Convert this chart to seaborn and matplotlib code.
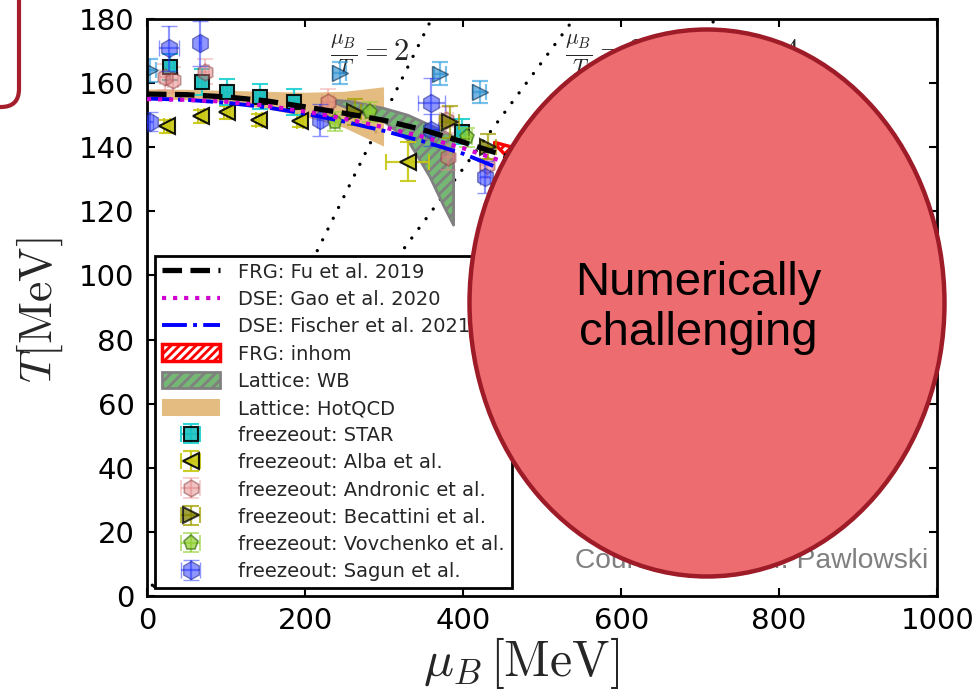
import numpy as np
import matplotlib
matplotlib.use("Agg")
import matplotlib.pyplot as plt
import seaborn as sns
from matplotlib.patches import Ellipse, FancyBboxPatch
from matplotlib.transforms import IdentityTransform

# ---------------- data ----------------
fu_mu = [0, 50, 100, 150, 200, 250, 300, 350, 400, 450, 500, 550, 600, 635]
fu_T = [156.6, 156.4, 155.7, 154.5, 152.6, 150.6, 148.4, 145.4, 141.6, 137.6, 133.0, 127.0, 119.0, 107.0]
gao_mu = [0, 50, 100, 150, 200, 250, 300, 350, 400, 450, 500, 550, 609]
gao_T = [155.0, 154.8, 154.2, 153.0, 151.2, 148.9, 146.2, 143.2, 139.7, 135.6, 131.0, 124.5, 109.0]
fis_mu = [0, 50, 100, 150, 200, 250, 300, 350, 400, 450, 480, 495]
fis_T = [155.2, 154.8, 153.9, 152.5, 150.5, 148.0, 145.1, 141.8, 138.0, 133.0, 127.0, 119.0]

inh_mu = [440, 500, 560, 620, 680]
inh_hi = [141.5, 137.5, 132.0, 125.0, 117.0]
inh_lo = [141.0, 126.0, 112.0, 98.0, 84.0]

wb_mu = [240, 260, 300, 330, 358, 375, 388]
wb_hi = [154.6, 154.2, 152.1, 150.0, 146.9, 145.0, 143.3]
wb_lo = [153.6, 151.6, 148.0, 142.3, 130.8, 122.0, 115.7]

hot_mu = [0, 50, 100, 150, 200, 250, 300]
hot_hi = [158.0, 157.9, 157.6, 157.3, 157.0, 157.3, 158.7]
hot_lo = [155.0, 154.7, 153.8, 152.0, 149.5, 146.0, 140.2]

ratios = [2, 3, 4]
ratio_label_mu = [232, 529, 725]
ratio_label_T = 168.8

star_mu = [29, 69, 101, 143, 186, 398]
star_T = [165.1, 160.4, 157.3, 155.8, 154.2, 144.9]
star_muerr = [5, 5, 5, 5, 5, 5]
star_Terr = [4, 4, 4, 4, 4, 4]

alba_mu = [25, 68, 101, 142, 194, 330]
alba_T = [146.6, 149.6, 150.9, 148.5, 148.2, 135.5]
alba_muerr = [4, 4, 4, 4, 4, 27]
alba_Terr = [2, 2, 2, 2, 2, 6]

andr_mu = [23, 33, 73, 229, 379, 381, 430]
andr_T = [162.0, 161.0, 163.6, 154.2, 148.5, 137.0, 134.5]
andr_muerr = [6, 6, 6, 8, 8, 8, 8]
andr_Terr = [4, 4, 4, 4, 4, 4, 4]

beca_mu = [263, 383, 432]
beca_T = [151.0, 148.0, 140.2]
beca_muerr = [8, 12, 10]
beca_Terr = [4, 5, 4]

beca2_mu = [4, 244, 371, 421]
beca2_T = [164.0, 163.1, 163.0, 157.3]
beca2_muerr = [8, 8, 8, 8]
beca2_Terr = [3.5, 3.5, 3.5, 3.5]

vov_mu = [238, 282, 405]
vov_T = [148.0, 151.0, 143.1]
vov_muerr = [6, 6, 6]
vov_Terr = [3, 3, 3]

sag_mu = [4, 28, 67, 219, 360, 360, 428]
sag_T = [148.0, 170.9, 172.4, 148.5, 153.7, 145.4, 130.8]
sag_muerr = [4, 13, 1, 4, 17, 8, 6]
sag_Terr = [3, 7, 7, 5, 8, 5, 5]

# ---------------- style ----------------
sns.set_style("ticks")
plt.rcParams.update({
    "font.family": ["DejaVu Sans"],
    "mathtext.fontset": "cm",
    "xtick.direction": "in",
    "ytick.direction": "in",
    "xtick.top": True,
    "ytick.right": True,
    "xtick.major.size": 6,
    "ytick.major.size": 6,
    "xtick.major.width": 1.5,
    "ytick.major.width": 1.5,
    "xtick.major.pad": 8,
    "ytick.major.pad": 9,
    "axes.linewidth": 2,
    "axes.edgecolor": "black",
    "xtick.color": "black",
    "ytick.color": "black",
})

fig = plt.figure(figsize=(9.78, 6.97), dpi=100)
ax = fig.add_axes([0.1503, 0.1449, 0.808, 0.8278])

# ratio lines mu_B/T = const
Tline = np.array([0.0, 190.0])
for r, lm in zip(ratios, ratio_label_mu):
    ax.plot(Tline * r, Tline, color="k", lw=2.4, linestyle=(0, (0.01, 3.6)),
            dash_capstyle="round", zorder=1.2)
    ax.text(lm, ratio_label_T, rf"$\frac{{\mu_B}}{{T}}={r}$", fontsize=22,
            va="center", ha="left", zorder=1.3)

# bands
h_hot = ax.fill_between(hot_mu, hot_lo, hot_hi, facecolor="#e2b574", edgecolor="none",
                        alpha=0.9, zorder=1.4, label="Lattice: HotQCD")
plt.rcParams["hatch.color"] = "gray"
plt.rcParams["hatch.linewidth"] = 2.0
h_wb = ax.fill_between(wb_mu, wb_lo, wb_hi, facecolor="#74b874", edgecolor="gray",
                       hatch="///", lw=2, zorder=1.5, label="Lattice: WB")
h_inh = ax.fill_between(inh_mu, inh_lo, inh_hi, facecolor="none", edgecolor="red",
                        hatch="////", lw=2.5, zorder=1.6, label="FRG: inhom")

# freezeout data
ebkw = dict(capsize=6, elinewidth=1.6, capthick=1.6, ls="none")
e_beca2 = ax.errorbar(beca2_mu, beca2_T, xerr=beca2_muerr, yerr=beca2_Terr, fmt=">",
                      ms=11, mfc="#2f8fd0", mec="#1a3550", ecolor="#2f9fe0", alpha=0.65,
                      zorder=2.0, **ebkw)
e_star = ax.errorbar(star_mu, star_T, xerr=star_muerr, yerr=star_Terr, fmt="s", ms=10,
                     mfc="#19c0c0", mec="k", mew=1.5, ecolor="#19d0d0", alpha=0.9,
                     zorder=2.2, label="freezeout: STAR", **ebkw)
e_alba = ax.errorbar(alba_mu, alba_T, xerr=alba_muerr, yerr=alba_Terr, fmt="<", ms=12,
                     mfc="#c8c810", mec="k", mew=1.5, ecolor="#c8c810", alpha=0.9,
                     zorder=2.1, label="freezeout: Alba et al.", **ebkw)
e_andr = ax.errorbar(andr_mu, andr_T, xerr=andr_muerr, yerr=andr_Terr, fmt="h", ms=12,
                     mfc="#e07878", mec="#803030", mew=1.2, ecolor="#e88888", alpha=0.45,
                     zorder=2.3, label="freezeout: Andronic et al.", **ebkw)
e_beca = ax.errorbar(beca_mu, beca_T, xerr=beca_muerr, yerr=beca_Terr, fmt=">", ms=12,
                     mfc="#808000", mec="k", mew=1.5, ecolor="#a0a000", alpha=0.75,
                     zorder=2.4, label="freezeout: Becattini et al.", **ebkw)
e_vov = ax.errorbar(vov_mu, vov_T, xerr=vov_muerr, yerr=vov_Terr, fmt="p", ms=11,
                    mfc="#8fd030", mec="#3a7010", mew=1.2, ecolor="#8fd030", alpha=0.7,
                    zorder=2.5, label="freezeout: Vovchenko et al.", **ebkw)
e_sag = ax.errorbar(sag_mu, sag_T, xerr=sag_muerr, yerr=sag_Terr, fmt="h", ms=13,
                    mfc="#2030ff", mec="#101880", mew=1.0, ecolor="#2030ff", alpha=0.5,
                    zorder=2.6, label="freezeout: Sagun et al.", **ebkw)

# curves (seaborn)
sns.lineplot(x=fu_mu, y=fu_T, ax=ax, color="black", lw=3.8, linestyle="--",
             zorder=3.2, label="FRG: Fu et al. 2019", legend=False)
h_fu = ax.lines[-1]
sns.lineplot(x=gao_mu, y=gao_T, ax=ax, color="#d000d0", lw=3.0, linestyle=":",
             zorder=3.1, label="DSE: Gao et al. 2020", legend=False)
h_gao = ax.lines[-1]
sns.lineplot(x=fis_mu, y=fis_T, ax=ax, color="blue", lw=2.8, linestyle="-.",
             zorder=3.0, label="DSE: Fischer et al. 2021", legend=False)
h_fis = ax.lines[-1]

ax.set_xlim(0, 1000)
ax.set_ylim(0, 180)
ax.set_xticks([0, 200, 400, 600, 800, 1000])
ax.set_yticks([0, 20, 40, 60, 80, 100, 120, 140, 160, 180])
ax.tick_params(labelsize=21)
ax.set_xlabel(r"$\mu_B\,[\mathrm{MeV}]$", fontsize=36)
ax.set_ylabel(r"$T[\mathrm{MeV}]$", fontsize=33)
ax.xaxis.set_label_coords(0.473, -0.068)
ax.yaxis.set_label_coords(-0.104, 0.495)

handles = [h_fu, h_gao, h_fis, h_inh, h_wb, h_hot,
           e_star, e_alba, e_andr, e_beca, e_vov, e_sag]
labels = ["FRG: Fu et al. 2019", "DSE: Gao et al. 2020", "DSE: Fischer et al. 2021",
          "FRG: inhom", "Lattice: WB", "Lattice: HotQCD",
          "freezeout: STAR", "freezeout: Alba et al.", "freezeout: Andronic et al.",
          "freezeout: Becattini et al.", "freezeout: Vovchenko et al.",
          "freezeout: Sagun et al."]
leg = ax.legend(handles, labels, loc="lower left", fontsize=14, borderaxespad=0.4,
                fancybox=False, framealpha=1, edgecolor="black", handlelength=3.0,
                handleheight=0.95, labelspacing=0.42, handletextpad=0.95, borderpad=0.35)
leg.get_frame().set_linewidth(2)
leg.set_zorder(4)

# overlay annotations (figure pixel coordinates)
H = 697
fig.text(928, H - 568, "Courtesy of J. M. Pawlowski", transform=IdentityTransform(),
         ha="right", va="baseline", fontsize=20.3, color="#808080",
         family="Liberation Sans", zorder=5)
fig.add_artist(Ellipse((707, H - 303), 475, 547, transform=IdentityTransform(),
                       facecolor="#ec6c6f", edgecolor="#9e1b28", lw=3.2, zorder=10))
fig.text(698, H - 308, "Numerically\nchallenging", transform=IdentityTransform(),
         ha="center", va="center", multialignment="center", fontsize=34,
         family="Liberation Sans", color="black", zorder=11, linespacing=1.15)
fig.add_artist(FancyBboxPatch((-300, H - 107), 319, 300, transform=IdentityTransform(),
                              boxstyle="round,pad=0,rounding_size=18", facecolor="none",
                              edgecolor="#a61e2c", lw=3, zorder=10))

fig.savefig("out.png", dpi=100)
